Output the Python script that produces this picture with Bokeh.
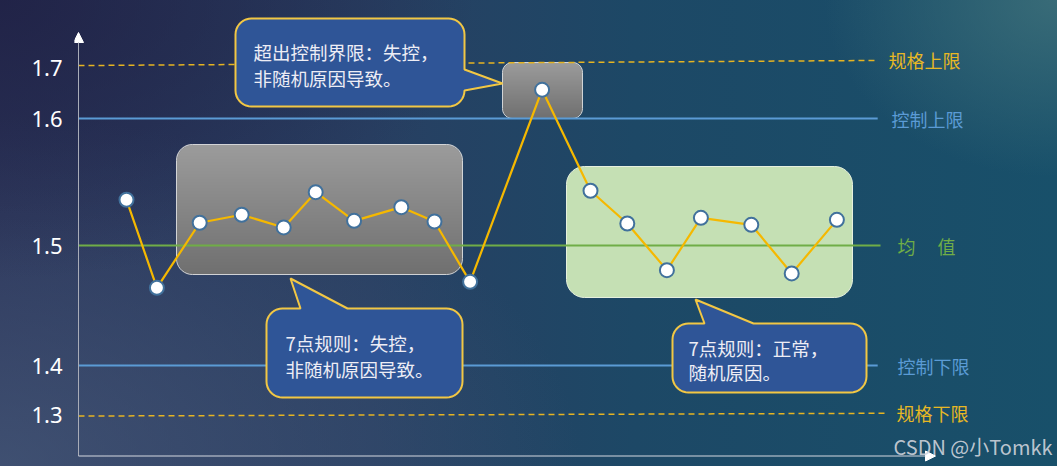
import numpy as np
from bokeh.plotting import figure
from bokeh.models import Range1d, FixedTicker, Arrow, NormalHead, Label, GlobalInlineStyleSheet
from bokeh.embed import file_html
from bokeh.resources import INLINE

# ---------------- data ----------------
sample_x = [1.2, 1.96, 3.03, 4.08, 5.13, 5.93, 6.89, 8.07, 8.9, 9.79,
            11.59, 12.8, 13.72, 14.71, 15.56, 16.82, 17.83, 18.96]
sample_values = [1.536, 1.4667, 1.5179, 1.5242, 1.5142, 1.5420, 1.5194, 1.5302, 1.5189, 1.4714,
                 1.6226, 1.5431, 1.5173, 1.4806, 1.5218, 1.5163, 1.4780, 1.5202]

level_names = ["规格上限", "控制上限", "均\u3000   值", "控制下限", "规格下限"]
level_tick_labels = ["1.7", "1.6", "1.5", "1.4", "1.3"]
level_tick_pos = [1.6398, 1.6, 1.5, 1.4051, 1.3665]
level_y_start = [1.6417, 1.6, 1.5, 1.4055, 1.3657]
level_y_end = [1.6457, 1.6, 1.5, 1.4055, 1.3679]
level_x_end = [19.95, 19.98, 20.05, 19.98, 20.25]

callout_texts = [["超出控制界限：失控，", "非随机原因导致。"],
                 ["7点规则：失控，", "非随机原因导致。"],
                 ["7点规则：正常，", "随机原因。"]]
watermark = "CSDN @小Tomkk"

# ---------------- layout helpers (reference pixels -> data units) ----------------
def dx(X):
    return (X - 78) / 40.0

def dy(Y):
    return 1.5 + (245 - Y) / 1270.0

def rounded_path(x0, y0, x1, y1, r, notch=None, n=10):
    pts = []
    def arc(cx, cy, a0, a1):
        for t in np.linspace(a0, a1, n):
            pts.append((cx + r * np.cos(t), cy + r * np.sin(t)))
    arc(x0 + r, y0 + r, np.pi, 1.5 * np.pi)
    if notch and notch[0] == "top":
        _, a, b, tx, ty = notch
        pts.extend([(a, y0), (tx, ty), (b, y0)])
    arc(x1 - r, y0 + r, 1.5 * np.pi, 2 * np.pi)
    if notch and notch[0] == "right":
        _, a, b, tx, ty = notch
        pts.extend([(x1, a), (tx, ty), (x1, b)])
    arc(x1 - r, y1 - r, 0, 0.5 * np.pi)
    arc(x0 + r, y1 - r, 0.5 * np.pi, np.pi)
    pts.append(pts[0])
    return [dx(p[0]) for p in pts], [dy(p[1]) for p in pts]

def rounded_gradient(W, H, r, top, bot):
    xs = np.arange(W) + 0.5
    ys = np.arange(H) + 0.5
    X, Y = np.meshgrid(xs, ys)
    ddx = np.maximum(np.maximum(r - X, X - (W - r)), 0)
    ddy = np.maximum(np.maximum(r - Y, Y - (H - r)), 0)
    dist = np.sqrt(ddx ** 2 + ddy ** 2)
    alpha = np.clip(r - dist + 0.5, 0, 1)
    t = Y / H
    img = np.zeros((H, W), dtype=np.uint32)
    v = img.view(dtype=np.uint8).reshape((H, W, 4))
    for k in range(3):
        v[..., k] = (top[k] + (bot[k] - top[k]) * t).astype(np.uint8)
    v[..., 3] = (alpha * 255).astype(np.uint8)
    return np.ascontiguousarray(img[::-1])

# ---------------- figure ----------------
p = figure(width=1057, height=466,
           x_range=Range1d(dx(74), dx(1057)), y_range=Range1d(dy(466), dy(0)),
           x_axis_type=None, output_backend="svg", toolbar_location=None,
           min_border_left=74, min_border_right=0, min_border_top=0, min_border_bottom=0)
p.background_fill_alpha = 0
p.border_fill_alpha = 0
p.outline_line_color = None
p.ygrid.visible = False

p.yaxis.ticker = FixedTicker(ticks=level_tick_pos)
p.yaxis.major_label_overrides = {pos: lab for pos, lab in zip(level_tick_pos, level_tick_labels)}
p.yaxis.axis_line_color = None
p.yaxis.major_tick_line_color = None
p.yaxis.minor_tick_line_color = None
p.yaxis.major_tick_out = 0
p.yaxis.major_tick_in = 0
p.yaxis.major_label_standoff = 12
p.yaxis.major_label_text_color = "#ffffff"
p.yaxis.major_label_text_font = "Noto Sans"
p.yaxis.major_label_text_font_size = "22px"

css = """
html {
  min-height: 100%;
  background-color: #23395b;
  background-image:
    radial-gradient(ellipse 22% 38% at 100% 0%, rgba(62,112,122,0.85), rgba(62,112,122,0)),
    radial-gradient(ellipse 45% 60% at 0% 0%, rgba(30,30,66,0.75), rgba(30,30,66,0)),
    radial-gradient(ellipse 55% 75% at 0% 100%, rgba(72,92,124,0.7), rgba(72,92,124,0)),
    linear-gradient(to right, #2a3358 0%, #283f62 35%, #1d4866 60%, #18506a 100%);
  background-attachment: fixed;
}
body { background: transparent; }
"""
p.stylesheets = [GlobalInlineStyleSheet(css=css)]

# ---------------- shaded regions ----------------
gray_boxes = [(176, 144, 462, 274, 16), (502, 62, 582, 118, 10)]
for (X0, Y0, X1, Y1, r) in gray_boxes:
    W, H = X1 - X0, Y1 - Y0
    img = rounded_gradient(W, H, r, (0x9c, 0x9c, 0x9c), (0x70, 0x70, 0x70))
    p.image_rgba(image=[img], x=dx(X0), y=dy(Y1), dw=W / 40.0, dh=H / 1270.0)
    bx, by = rounded_path(X0, Y0, X1, Y1, r)
    p.line(bx, by, line_color="#e8e8e8", line_alpha=0.85, line_width=1)

gx, gy = rounded_path(566, 166, 852, 297, 18)
p.patch(gx, gy, fill_color="#C5E0B4", line_color="#E6F0DE", line_width=1)

# ---------------- level lines ----------------
level_styles = [
    dict(line_color="#E6B422", line_width=1.5, line_dash="6 4"),
    dict(line_color="#5B9BD5", line_width=2, line_dash="solid"),
    dict(line_color="#70AD47", line_width=2, line_dash="solid"),
    dict(line_color="#5B9BD5", line_width=2, line_dash="solid"),
    dict(line_color="#E6B422", line_width=1.5, line_dash="6 4"),
]
for i in range(len(level_names)):
    p.segment(x0=[0], y0=[level_y_start[i]], x1=[level_x_end[i]], y1=[level_y_end[i]], **level_styles[i])

# ---------------- data series ----------------
p.line(sample_x, sample_values, line_color="#F5B800", line_width=2.2)
p.scatter(sample_x, sample_values, size=14, fill_color="white", line_color="#41719C", line_width=2)

# ---------------- callouts ----------------
callouts = [
    (235, 18, 464, 106, 16, ("right", 69, 90, 502, 83)),
    (266, 308, 462, 397, 16, ("top", 300, 347, 290, 278)),
    (672, 323, 866, 392, 16, ("top", 704, 753, 695, 299)),
]
for (X0, Y0, X1, Y1, r, notch) in callouts:
    cx, cy = rounded_path(X0, Y0, X1, Y1, r, notch)
    p.patch(cx, cy, fill_color="#2F5597", line_color="#F2C744", line_width=2)

callout_text_pos = [[(253, 51), (253, 77)], [(285, 342), (285, 368)], [(688, 347), (688, 371)]]
for lines, poss in zip(callout_texts, callout_text_pos):
    for txt, (X, Y) in zip(lines, poss):
        p.add_layout(Label(x=dx(X), y=dy(Y), text=txt, text_font="Noto Sans CJK SC",
                           text_font_size="18.5px", text_color="#EDEDF5",
                           text_baseline="middle", text_align="left"))

# ---------------- level names on the right ----------------
level_label_x = [888, 891, 897, 897, 896]
level_label_colors = ["#E8B824", "#5B9BD5", "#70AD47", "#5B9BD5", "#E8B824"]
for i, name in enumerate(level_names):
    p.add_layout(Label(x=dx(level_label_x[i]), y=level_y_end[i], text=name,
                       text_font="Noto Sans CJK SC", text_font_size="18px",
                       text_color=level_label_colors[i], text_baseline="middle", text_align="left"))

# ---------------- axes arrows ----------------
p.add_layout(Arrow(x_start=0, y_start=dy(455.5), x_end=0, y_end=dy(32),
                   line_color="#a8acb8", line_width=1,
                   end=NormalHead(size=10, fill_color="white", line_color="white")))
p.add_layout(Arrow(x_start=0, y_start=dy(455.5), x_end=dx(935), y_end=dy(455.5),
                   line_color="#d4d8e0", line_width=1,
                   end=NormalHead(size=10, fill_color="white", line_color="white")))

p.add_layout(Label(x=dx(1052), y=dy(446), text=watermark, text_font="Noto Sans CJK SC",
                   text_font_size="20px", text_color="#d0d4dc", text_alpha=0.9,
                   text_baseline="middle", text_align="right"))

open("out.html", "w").write(file_html(p, INLINE))
